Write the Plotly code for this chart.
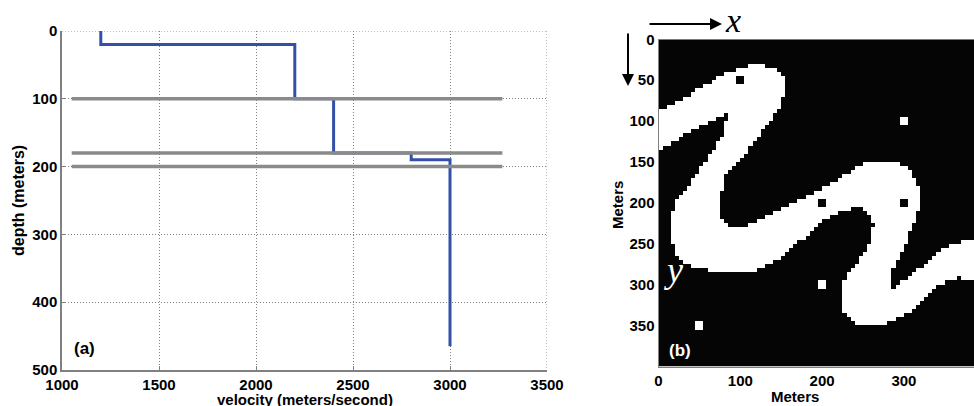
import numpy as np
import plotly.graph_objects as go

# ---------------- data: panel (a) ----------------
velocity_steps = [1200, 1200, 2200, 2200, 2400, 2400, 2800, 2800, 3000, 3000]
depth_steps = [0, 20, 20, 100, 100, 180, 180, 190, 190, 465]
layer_depths = [100, 180, 200]
layer_x_extent = [1050, 3270]
x_ticks_a = [1000, 1500, 2000, 2500, 3000, 3500]
y_ticks_a = [0, 100, 200, 300, 400, 500]

# ---------------- data: panel (b) ----------------
cell_size = 5          # metres per image cell
n_cells = 80           # 400 m x 400 m model
channel_outline = [
    (0, 88), (36, 69), (81, 41), (112, 32), (130, 32), (146, 39), (154, 49), (154, 69),
    (148, 82), (140, 94), (126, 114), (110, 135), (94, 151), (81, 167), (75, 202), (77, 217),
    (85, 229), (106, 231), (122, 221), (136, 215), (161, 203), (189, 188), (218, 174),
    (238, 159), (250, 153), (267, 148), (289, 148), (303, 157), (312, 167), (318, 183),
    (320, 202), (316, 217), (307, 237), (299, 258), (291, 274), (282, 294), (287, 303),
    (299, 296), (320, 280), (340, 262), (356, 251), (373, 247), (405, 245),
    (405, 298), (387, 296), (369, 292), (356, 294), (340, 304), (320, 323), (299, 339),
    (275, 349), (246, 350), (230, 341), (224, 327), (224, 306), (230, 290), (242, 274),
    (254, 258), (259, 243), (263, 229), (259, 215), (248, 207), (238, 207), (218, 213),
    (201, 223), (177, 243), (145, 270), (138, 274), (118, 284), (65, 284), (36, 276),
    (24, 266), (16, 249), (14, 221), (22, 198), (34, 183), (45, 167), (57, 151), (69, 130),
    (81, 114), (83, 92), (69, 98), (36, 114), (0, 137),
]
white_dots = [(300, 100), (200, 300), (50, 350)]
black_dots = [(100, 50), (200, 200), (300, 200)]
x_ticks_b = [0, 100, 200, 300]
y_ticks_b = [0, 50, 100, 150, 200, 250, 300, 350]

# ---------------- rasterise the channel image ----------------
centres = cell_size / 2 + cell_size * np.arange(n_cells)
PX, PY = np.meshgrid(centres, centres)
poly = np.array(channel_outline, dtype=float)
mask = np.zeros(PX.shape, dtype=bool)
j = len(poly) - 1
for i in range(len(poly)):
    xi, yi = poly[i]
    xj, yj = poly[j]
    cond = ((yi > PY) != (yj > PY)) & (PX < (xj - xi) * (PY - yi) / (yj - yi + 1e-12) + xi)
    mask ^= cond
    j = i
img = mask.astype(float)
for (dx, dy) in white_dots:
    img[(np.abs(PX - dx) < cell_size) & (np.abs(PY - dy) < cell_size)] = 1.0
for (dx, dy) in black_dots:
    img[(np.abs(PX - dx) < cell_size) & (np.abs(PY - dy) < cell_size)] = 0.0

W, H = 974, 406
FONT = "Arial, Liberation Sans, sans-serif"
SERIF = "Liberation Serif, Times New Roman, serif"
tickfont = dict(family=FONT, size=15, color="black")
GRID_DASH = "1px,2px"


def bold(vals):
    return ["<b>%d</b>" % v for v in vals]


fig = go.Figure()

fig.add_trace(go.Scatter(x=velocity_steps, y=depth_steps, mode="lines",
                         line=dict(color="#3350a8", width=3), xaxis="x", yaxis="y",
                         showlegend=False, hoverinfo="skip"))
for d in layer_depths:
    fig.add_trace(go.Scatter(x=layer_x_extent, y=[d, d], mode="lines",
                             line=dict(color="#8a8a8a", width=3.5), xaxis="x", yaxis="y",
                             showlegend=False, hoverinfo="skip"))

fig.add_trace(go.Heatmap(z=img, x=centres, y=centres, xaxis="x2", yaxis="y2",
                         colorscale=[[0, "#050505"], [1, "#ffffff"]], showscale=False,
                         zmin=0, zmax=1, hoverinfo="skip"))

# pixel geometry
ax_l, ax_r, ax_t, ax_b = 62, 547, 31, 370
bx_l, bx_t, bx_b = 658.5, 39.3, 366.7
b_scale = 0.818

fig.update_layout(
    width=W, height=H, margin=dict(l=0, r=0, t=0, b=0, autoexpand=False),
    paper_bgcolor="white", plot_bgcolor="white",
    font=dict(family=FONT, size=15, color="black"),
    xaxis=dict(domain=[ax_l / W, ax_r / W], range=[1000, 3500], tickvals=x_ticks_a,
               ticktext=bold(x_ticks_a),
               showgrid=True, gridcolor="#808080", griddash=GRID_DASH, gridwidth=1,
               showline=True, linecolor="#808080", linewidth=1.5, zeroline=False,
               ticks="inside", ticklen=4, tickcolor="#808080", automargin=False,
               tickfont=tickfont, anchor="y"),
    yaxis=dict(domain=[1 - ax_b / H, 1 - ax_t / H], range=[500, 0], tickvals=y_ticks_a,
               ticktext=bold(y_ticks_a),
               showgrid=True, gridcolor="#808080", griddash=GRID_DASH, gridwidth=1,
               showline=True, linecolor="#808080", linewidth=1.5, zeroline=False,
               ticks="inside", ticklen=4, tickcolor="#808080", automargin=False,
               tickfont=tickfont, anchor="x"),
    xaxis2=dict(domain=[bx_l / W, 1.0], range=[0, (W - bx_l) / b_scale], tickvals=x_ticks_b,
                ticktext=bold(x_ticks_b),
                showgrid=False, zeroline=False, showline=True, linecolor="#808080",
                linewidth=1, ticks="", tickfont=tickfont, anchor="y2", automargin=False),
    yaxis2=dict(domain=[1 - bx_b / H, 1 - bx_t / H], range=[400, 0], tickvals=y_ticks_b,
                ticktext=bold(y_ticks_b),
                showgrid=False, zeroline=False, showline=True, linecolor="#808080",
                linewidth=1, ticks="", tickfont=tickfont, anchor="x2", mirror=False,
                automargin=False),
    shapes=[
        dict(type="line", xref="x", yref="y", x0=1000, x1=3500, y0=0, y1=0,
             line=dict(color="#808080", width=1, dash=GRID_DASH), layer="below"),
        dict(type="line", xref="x", yref="y", x0=3500, x1=3500, y0=0, y1=500,
             line=dict(color="#808080", width=1, dash=GRID_DASH), layer="below"),
    ],
)

ann = []
# axis titles (a)
ann.append(dict(text="<b>depth (meters)</b>", x=18 / W, y=1 - 201 / H, xref="paper", yref="paper",
                xanchor="center", yanchor="middle",
                textangle=-90, showarrow=False, font=dict(family=FONT, size=16)))
ann.append(dict(text="<b>velocity (meters/second)</b>", x=(ax_l + ax_r) / 2 / W, y=1 - 399.5 / H,
                xref="paper", yref="paper", xanchor="center", yanchor="middle",
                showarrow=False, font=dict(family=FONT, size=15)))
ann.append(dict(text="<b>(a)</b>", x=1118, y=468, xref="x", yref="y", showarrow=False,
                font=dict(family=FONT, size=17)))
# axis titles (b)
ann.append(dict(text="<b>Meters</b>", x=617 / W, y=1 - 205 / H, xref="paper", yref="paper",
                xanchor="center", yanchor="middle",
                textangle=-90, showarrow=False, font=dict(family=FONT, size=15)))
ann.append(dict(text="<b>Meters</b>", x=795 / W, y=1 - 396 / H, xref="paper", yref="paper",
                xanchor="center", yanchor="middle",
                showarrow=False, font=dict(family=FONT, size=15)))
ann.append(dict(text="<b>(b)</b>", x=26, y=380, xref="x2", yref="y2", showarrow=False,
                font=dict(family=FONT, size=17, color="white")))
# arrows and x / y letters
ann.append(dict(text="", x=722 / W, y=1 - 24 / H, xref="paper", yref="paper",
                ax=-74, ay=0, showarrow=True, arrowhead=2, arrowsize=1.2, arrowwidth=2,
                arrowcolor="black"))
ann.append(dict(text="<i>x</i>", x=733 / W, y=1 - 20 / H, xref="paper", yref="paper",
                xanchor="center", yanchor="middle",
                showarrow=False, font=dict(family=SERIF, size=34)))
ann.append(dict(text="", x=628 / W, y=1 - 86 / H, xref="paper", yref="paper",
                ax=0, ay=-54, showarrow=True, arrowhead=2, arrowsize=1.2, arrowwidth=2,
                arrowcolor="black"))
ann.append(dict(text="<i>y</i>", x=673 / W, y=1 - 270 / H, xref="paper", yref="paper",
                xanchor="center", yanchor="middle",
                showarrow=False, font=dict(family=SERIF, size=36, color="white")))
fig.update_layout(annotations=ann)

fig.write_html("out.html", config={"displayModeBar": False},
               post_script="document.body.style.margin='0px';")
